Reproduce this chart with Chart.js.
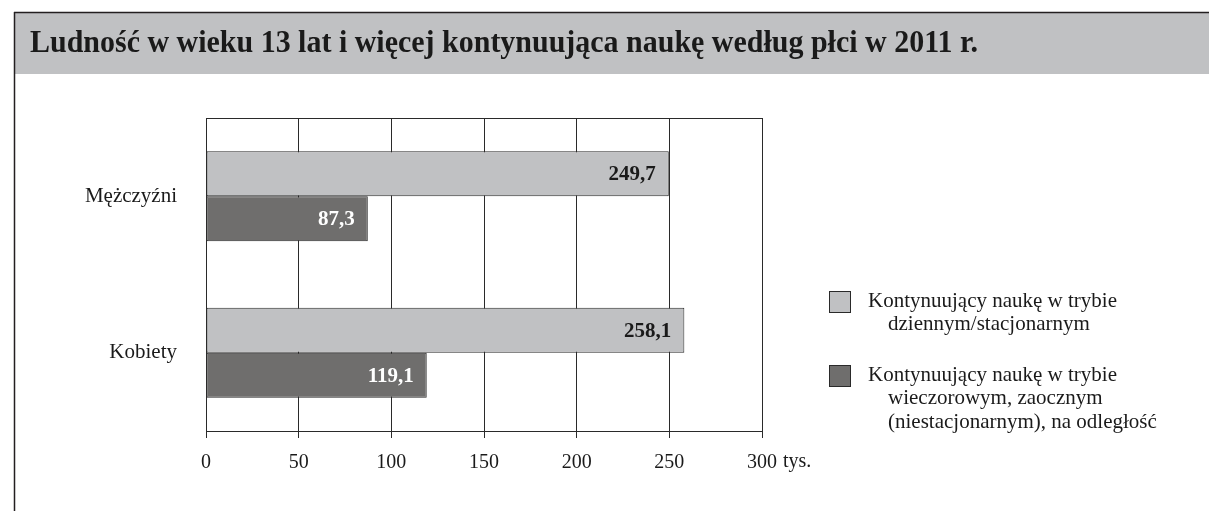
<!DOCTYPE html>
<html>
<head>
<meta charset="utf-8">
<script src="https://cdn.jsdelivr.net/npm/chart.js@4.4.1/dist/chart.umd.min.js"></script>
<style>
  html, body { margin: 0; padding: 0; background: #ffffff; }
  #wrap { position: relative; width: 1209px; height: 511px; }
</style>
</head>
<body>
<div id="wrap"><canvas id="c" width="1209" height="511"></canvas></div>
<script>
const titleText = "Ludność w wieku 13 lat i więcej kontynuująca naukę według płci w 2011 r.";
const categories = ["Mężczyźni", "Kobiety"];
const seriesNames = [
  "Kontynuujący naukę w trybie dziennym/stacjonarnym",
  "Kontynuujący naukę w trybie wieczorowym, zaocznym (niestacjonarnym), na odległość"
];
const legendLines1 = ["Kontynuujący naukę w trybie", "dziennym/stacjonarnym"];
const legendLines2 = ["Kontynuujący naukę w trybie", "wieczorowym, zaocznym", "(niestacjonarnym), na odległość"];
const dailyValues = [249.7, 258.1];
const eveningValues = [87.3, 119.1];
const xTicks = [0, 50, 100, 150, 200, 250, 300];
const unitLabel = "tys.";

const SERIF = '"Liberation Serif", "Times New Roman", serif';
const LIGHT = '#c0c1c3';
const DARK = '#6f6e6d';
const EDGE = '#2a2a2a';

const fmt = v => v.toFixed(1).replace('.', ',');

const decorPlugin = {
  id: 'decor',
  beforeDraw(chart) {
    const ctx = chart.ctx;
    ctx.save();
    ctx.fillStyle = '#ffffff';
    ctx.fillRect(0, 0, chart.width, chart.height);
    // banner
    ctx.fillStyle = LIGHT;
    ctx.fillRect(14, 12, chart.width - 14, 62);
    ctx.strokeStyle = '#231f20';
    ctx.lineWidth = 1.5;
    ctx.beginPath();
    ctx.moveTo(14, 12.5); ctx.lineTo(chart.width, 12.5);
    ctx.moveTo(14.5, 12); ctx.lineTo(14.5, chart.height);
    ctx.stroke();
    // title (condensed to match reference width)
    ctx.fillStyle = '#1a1a1a';
    ctx.font = 'bold 31px ' + SERIF;
    ctx.textBaseline = 'alphabetic';
    ctx.textAlign = 'left';
    const tw = ctx.measureText(titleText).width;
    const targetW = 948;
    ctx.translate(30, 52);
    ctx.scale(targetW / tw, 1);
    ctx.fillText(titleText, 0, 0);
    ctx.restore();
  },
  afterDraw(chart) {
    const ctx = chart.ctx;
    const xs = chart.scales.x;
    const ca = chart.chartArea;
    ctx.save();
    // plot frame
    ctx.strokeStyle = EDGE;
    ctx.lineWidth = 1;
    ctx.strokeRect(Math.round(ca.left) + 0.5, Math.round(ca.top) + 0.5, Math.round(ca.right - ca.left), Math.round(ca.bottom - ca.top));
    // unit label after last tick
    ctx.fillStyle = '#1a1a1a';
    ctx.font = '20px ' + SERIF;
    ctx.textBaseline = 'middle';
    ctx.textAlign = 'left';
    const x300 = xs.getPixelForValue(300);
    const w300 = ctx.measureText('300').width;
    ctx.fillText(unitLabel, x300 + w300 / 2 + 6, 462);
    // value labels
    ctx.font = 'bold 21px ' + SERIF;
    ctx.textAlign = 'right';
    chart.data.datasets.forEach((ds, di) => {
      const meta = chart.getDatasetMeta(di);
      meta.data.forEach((bar, i) => {
        ctx.fillStyle = di === 0 ? '#1a1a1a' : '#ffffff';
        ctx.fillText(fmt(ds.data[i]), bar.x - 13, bar.y + 1);
      });
    });
    // legend
    ctx.font = '21px ' + SERIF;
    ctx.textAlign = 'left';
    const items = [
      { color: LIGHT, lines: legendLines1, y: 291 },
      { color: DARK, lines: legendLines2, y: 365 }
    ];
    items.forEach(it => {
      ctx.fillStyle = it.color;
      ctx.fillRect(829, it.y, 21, 21);
      ctx.strokeStyle = EDGE;
      ctx.lineWidth = 1;
      ctx.strokeRect(829.5, it.y + 0.5, 21, 21);
      ctx.fillStyle = '#1a1a1a';
      it.lines.forEach((ln, k) => {
        ctx.fillText(ln, k === 0 ? 868 : 888, it.y + 10 + k * 23.5);
      });
    });
    ctx.restore();
  }
};

new Chart(document.getElementById('c'), {
  type: 'bar',
  data: {
    labels: categories,
    datasets: [
      { label: seriesNames[0], data: dailyValues, backgroundColor: LIGHT, borderColor: EDGE, borderWidth: 1, borderSkipped: false },
      { label: seriesNames[1], data: eveningValues, backgroundColor: DARK, borderColor: EDGE, borderWidth: 1, borderSkipped: false }
    ]
  },
  options: {
    indexAxis: 'y',
    responsive: false,
    animation: false,
    devicePixelRatio: 1,
    layout: { padding: { left: 0, right: 447, top: 118, bottom: 0 } },
    datasets: { bar: { barPercentage: 1, categoryPercentage: 0.575 } },
    plugins: {
      legend: { display: false },
      tooltip: { enabled: false },
      title: { display: false }
    },
    scales: {
      x: {
        min: 0, max: 300,
        afterBuildTicks: s => { s.ticks = xTicks.map(v => ({ value: v })); },
        afterFit: s => { s.height = 80; },
        grid: { color: EDGE, lineWidth: 1, drawTicks: true, tickLength: 7, tickColor: EDGE },
        border: { color: EDGE, width: 1 },
        ticks: { color: '#1a1a1a', font: { family: SERIF, size: 20 }, padding: 13, maxRotation: 0 }
      },
      y: {
        afterFit: s => { s.width = 206; },
        grid: { display: false },
        border: { color: EDGE, width: 1 },
        ticks: { color: '#1a1a1a', font: { family: SERIF, size: 21 }, padding: 21 }
      }
    }
  },
  plugins: [decorPlugin]
});
</script>
</body>
</html>
